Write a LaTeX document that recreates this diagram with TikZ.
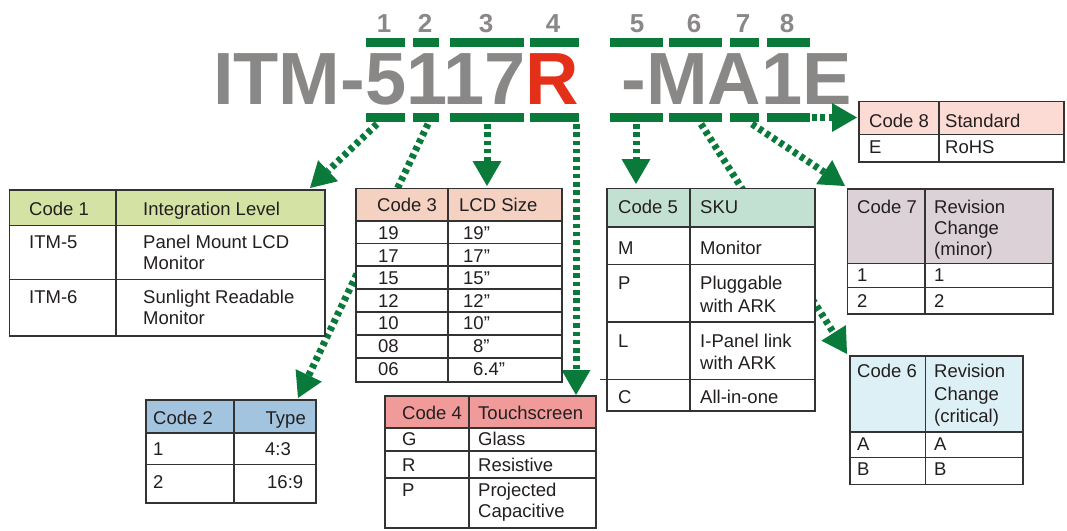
\documentclass[tikz,border=0pt]{standalone}
\usepackage{fontspec}
\setmainfont{Liberation Sans}
\usetikzlibrary{arrows.meta}
\definecolor{tgray}{RGB}{138,135,135}
\definecolor{tgreen}{RGB}{10,122,58}
\definecolor{tred}{RGB}{228,48,24}
\definecolor{tline}{RGB}{51,51,51}
\definecolor{ttext}{RGB}{35,31,32}
\definecolor{hA}{RGB}{212,227,164}
\definecolor{hB}{RGB}{162,196,222}
\definecolor{hC}{RGB}{244,209,192}
\definecolor{hD}{RGB}{240,154,154}
\definecolor{hE}{RGB}{195,225,211}
\definecolor{hF}{RGB}{221,240,245}
\definecolor{hG}{RGB}{221,209,216}
\definecolor{hH}{RGB}{251,219,212}
\newcommand\tl[4]{\node[txt,anchor=base west] (#1) at (#2,#3+6.6) {#4};}
\newcommand\tr[4]{\node[txt,anchor=base east] (#1) at (#2,#3+6.6) {#4};}
\begin{document}
\begin{tikzpicture}[x=1pt,y=-1pt,
  txt/.style={font=\fontsize{18.5}{21.5}\selectfont, text=ttext, inner sep=0pt},
  title/.style={font=\fontsize{74}{74}\selectfont\bfseries, text=tgray, inner sep=0pt, anchor=base west},
  dig/.style={font=\fontsize{26}{26}\selectfont\bfseries, text=tgray, inner sep=0pt, anchor=base},
  bar/.style={fill=tgreen, inner sep=0pt, minimum height=9pt},
  arr/.style={draw=tgreen, line width=7pt, dash pattern=on 4.5pt off 3.8pt,
    -{Triangle[width=29pt,length=25pt,line width=0pt]}},
  grid/.style={draw=tline, line width=1.4pt}]
\useasboundingbox (0,0) rectangle (1067,530);

% part number
\node[title] (pnA) at (213,104.5) {ITM-5117\textcolor{tred}{R}};
\node[title] (pnB) at (621.5,104.5) {-MA1E};

% digits
\node[dig] (d1) at (384,32) {1};
\node[dig] (d2) at (425,32) {2};
\node[dig] (d3) at (486,32) {3};
\node[dig] (d4) at (553,32) {4};
\node[dig] (d5) at (637,32) {5};
\node[dig] (d6) at (694,32) {6};
\node[dig] (d7) at (743,32) {7};
\node[dig] (d8) at (787,32) {8};

% bars
\foreach \n/\l/\r in {1/366/405,2/413/439,3/450/524,4/530/579,5/610/663,6/669/722,7/730/759,8/767/810}{
  \node[bar, minimum width=\r-\l] (bt\n) at ({(\l+\r)/2},42.5) {};
  \node[bar, minimum width=\r-\l] (bb\n) at ({(\l+\r)/2},117.5) {};
}

% arrow coordinates
\coordinate (s1) at (377,124);  \coordinate (e1) at (310,188);
\coordinate (s2) at (428,124);  \coordinate (e2) at (298,398);
\coordinate (s3) at (487,124);  \coordinate (e3) at (487,186);
\coordinate (s4) at (576,124);  \coordinate (e4) at (576,395);
\coordinate (s5) at (636,124);  \coordinate (e5) at (636,184);
\coordinate (s6) at (701,124);  \coordinate (e6) at (847,354);
\coordinate (s7) at (752,124);  \coordinate (e7) at (845,186);
\coordinate (s8) at (812,117.5);\coordinate (e8) at (857,117.5);
\foreach \n in {1,...,8}{\draw[arr] (s\n) -- (e\n);}

% ---- Code 1 table
\fill[white] (9.5,190) rectangle (325,336);
\fill[hA] (9.5,190) rectangle (325,225.5);
\draw[grid] (9.5,190) rectangle (325,336) (116,190) -- (116,336)
  (9.5,225.5) -- (325,225.5) (9.5,279.5) -- (325,279.5);
\tl{a1}{29}{209}{Code 1}
\tl{a2}{143}{209}{Integration Level}
\tl{a3}{29}{242}{ITM-5}
\tl{a4}{143}{242}{Panel Mount LCD}
\tl{a5}{143}{263}{Monitor}
\tl{a6}{29}{297}{ITM-6}
\tl{a7}{143}{297}{Sunlight Readable}
\tl{a8}{143}{318}{Monitor}

% ---- Code 2 table
\fill[white] (146,400) rectangle (316,503);
\fill[hB] (146,400) rectangle (316,433);
\draw[grid] (146,400) rectangle (316,503) (234,400) -- (234,503)
  (146,433) -- (316,433) (146,464.5) -- (316,464.5);
\tl{b1}{153}{418}{Code 2}
\tr{b2}{306}{418}{Type}
\tl{b3}{153}{449}{1}
\tl{b4}{265}{449}{4:3}
\tl{b5}{153}{482}{2}
\tl{b6}{267}{482}{16:9}

% ---- Code 3 table
\fill[white] (356,188.5) rectangle (562,382);
\fill[hC] (356,188.5) rectangle (562,221);
\draw[grid] (356,188.5) rectangle (562,382) (448,188.5) -- (448,382);
\foreach \yy in {221,243.5,266,289,312,335,358}{\draw[grid] (356,\yy) -- (562,\yy);}
\tl{c1}{377}{205}{Code 3}
\tl{c2}{459}{205}{LCD Size}
\tl{c3}{378}{232.7}{19}  \tl{c4}{463}{232.7}{19”}
\tl{c5}{378}{255.7}{17}  \tl{c6}{463}{255.7}{17”}
\tl{c7}{378}{278.3}{15}  \tl{c8}{463}{278.3}{15”}
\tl{c9}{378}{300.7}{12}  \tl{c10}{463}{300.7}{12”}
\tl{c11}{378}{323.3}{10} \tl{c12}{463}{323.3}{10”}
\tl{c13}{378}{346}{08}   \tl{c14}{473}{346}{8”}
\tl{c15}{378}{369.3}{06} \tl{c16}{473}{369.3}{6.4”}

% ---- Code 4 table
\fill[white] (385,396) rectangle (596,528);
\fill[hD] (385,396) rectangle (596,428);
\draw[grid] (385,396) rectangle (596,528) (469,396) -- (469,528)
  (385,428) -- (596,428) (385,451) -- (596,451) (385,478) -- (596,478);
\tl{d1t}{402}{413}{Code 4}
\tl{d2t}{478}{413}{Touchscreen}
\tl{d3t}{402}{439}{G} \tl{d4t}{478}{439}{Glass}
\tl{d5t}{402}{465}{R} \tl{d6t}{478}{465}{Resistive}
\tl{d7t}{402}{490}{P} \tl{d8t}{478}{490}{Projected}
\tl{d9t}{478}{511}{Capacitive}

% ---- Code 5 table
\fill[white] (607,188.5) rectangle (815,411);
\fill[hE] (607,188.5) rectangle (815,227);
\draw[grid] (607,188.5) rectangle (815,411) (690,188.5) -- (690,411)
  (607,227) -- (815,227) (607,264.5) -- (815,264.5)
  (607,322) -- (815,322) (600,379.5) -- (815,379.5);
\tl{e1t}{618}{207}{Code 5}
\tl{e2t}{700}{207}{SKU}
\tl{e3t}{618}{248}{M} \tl{e4t}{700}{248}{Monitor}
\tl{e5t}{618}{283}{P} \tl{e6t}{700}{283}{Pluggable}
\tl{e7t}{700}{306}{with ARK}
\tl{e8t}{618}{341}{L} \tl{e9t}{700}{341}{I-Panel link}
\tl{e10t}{700}{363}{with ARK}
\tl{e11t}{618}{397}{C} \tl{e12t}{700}{397}{All-in-one}

% ---- Code 6 table
\fill[white] (850,356) rectangle (1023,484.5);
\fill[hF] (850,356) rectangle (1023,432);
\draw[grid] (850,356) rectangle (1023,484.5) (925.5,356) -- (925.5,484.5)
  (850,432) -- (1023,432) (850,457.5) -- (1023,457.5);
\tl{f1}{857}{371}{Code 6}
\tl{f2}{934}{371}{Revision}
\tl{f3}{934}{394}{Change}
\tl{f4}{934}{416}{(critical)}
\tl{f5}{857}{444}{A} \tl{f6}{934}{444}{A}
\tl{f7}{857}{469}{B} \tl{f8}{934}{469}{B}

% ---- Code 7 table
\fill[white] (847.5,189) rectangle (1053,314);
\fill[hG] (847.5,189) rectangle (1053,263.5);
\draw[grid] (847.5,189) rectangle (1053,314) (925,189) -- (925,314)
  (847.5,263.5) -- (1053,263.5) (847.5,287.5) -- (1053,287.5);
\tl{g1}{857}{207}{Code 7}
\tl{g2}{934}{207}{Revision}
\tl{g3}{934}{228}{Change}
\tl{g4}{934}{249}{(minor)}
\tl{g5}{857}{275}{1} \tl{g6}{934}{275}{1}
\tl{g7}{857}{301}{2} \tl{g8}{934}{301}{2}

% ---- Code 8 table
\fill[white] (859,101.5) rectangle (1064,162);
\fill[hH] (859,101.5) rectangle (1064,134.5);
\draw[grid] (859,101.5) rectangle (1064,162) (939,101.5) -- (939,162)
  (859,134.5) -- (1064,134.5);
\tl{h1}{869}{121}{Code 8}
\tl{h2}{945}{121}{Standard}
\tl{h3}{869}{147}{E} \tl{h4}{945}{147}{RoHS}
\end{tikzpicture}
\end{document}
